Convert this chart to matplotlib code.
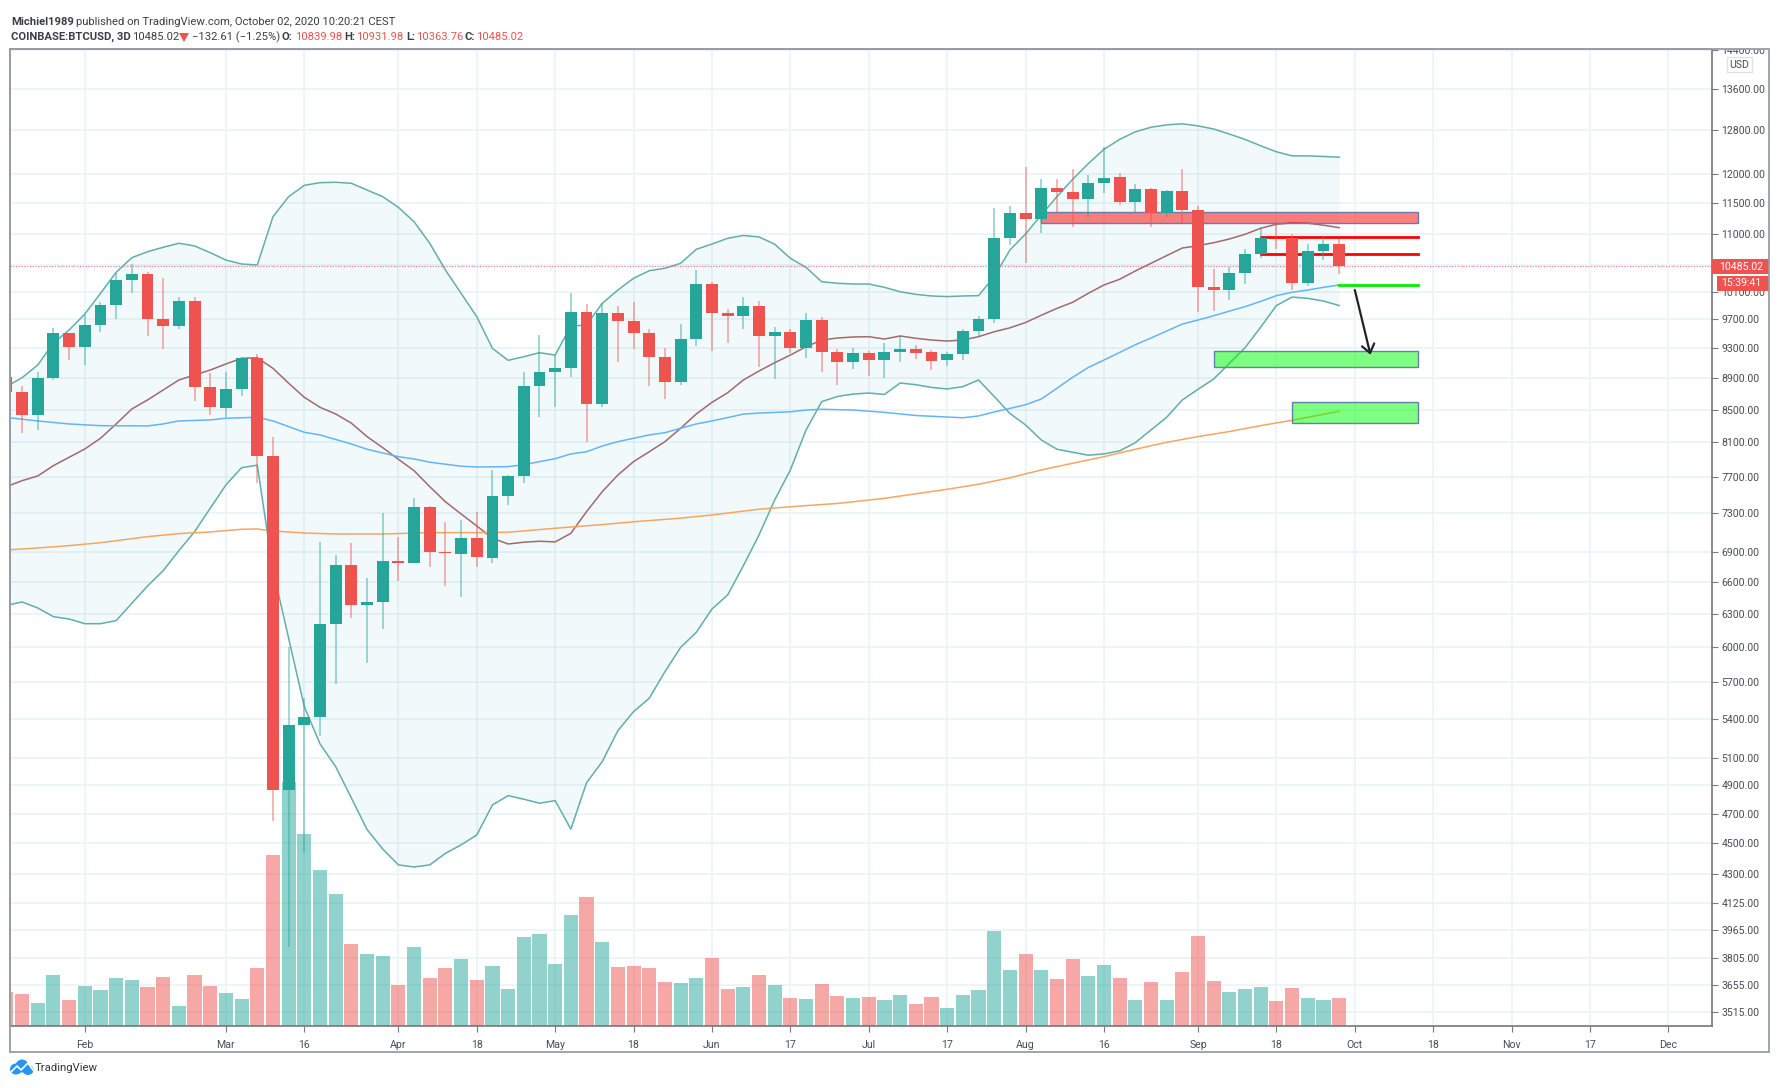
import matplotlib
matplotlib.use("Agg")
import matplotlib.pyplot as plt
from matplotlib.patches import Rectangle, Ellipse, Polygon
from matplotlib.ticker import FixedLocator, FixedFormatter, NullLocator

W, H = 1782, 1088
plt.rcParams["font.family"] = ["Roboto", "DejaVu Sans"]

# candles, 3D bars, one value per bar
opens = [8915, 8722, 8432, 8898, 9504, 9320, 9618, 9903, 10273, 10369,
         9702, 9607, 9966, 8781, 8523, 8760, 9163, 7940, 4866, 5352,
         5418, 6206, 6770, 6379, 6410, 6810, 6784, 7371, 6895, 6881,
         7038, 6840, 7491, 7711, 8798, 8985, 9030, 9810, 8573, 9796,
         9678, 9513, 9181, 8846, 9426, 10211, 9788, 9750, 9897, 9471,
         9527, 9297, 9692, 9248, 9117, 9239, 9140, 9252, 9293, 9244,
         9136, 9217, 9533, 9713, 10926, 11344, 11234, 11768, 11688, 11569,
         11855, 11948, 11528, 11745, 11334, 11716, 11389, 10168, 10128, 10389,
         10682, 10936, 10926, 10238, 10724, 10840]
highs = [8960, 8798, 8985, 9578, 9513, 9769, 9952, 10379, 10522, 10395,
         10313, 10031, 10031, 8972, 8977, 9176, 9221, 8161, 6004, 5566,
         6997, 6867, 6987, 6636, 7300, 7054, 7466, 7382, 7208, 7229,
         7311, 7779, 7722, 8985, 9481, 9207, 10079, 9922, 9932, 9897,
         9957, 9561, 9307, 9632, 10430, 10243, 9850, 10020, 9971, 9589,
         9561, 9788, 9730, 9293, 9307, 9265, 9375, 9468, 9347, 9275,
         9244, 9561, 9750, 11417, 11457, 12125, 11913, 11918, 12090, 11988,
         12485, 12018, 11827, 11757, 11728, 12090, 11461, 10441, 10481, 10756,
         11104, 11195, 10996, 10830, 10952, 10932]
lows = [8640, 8213, 8249, 8876, 9140, 9077, 9523, 9706, 10079, 9468,
        9285, 9561, 8604, 8432, 8404, 8671, 7629, 4651, 3867, 4438,
        5267, 5684, 6264, 5859, 6164, 6610, 6784, 6750, 6562, 6460,
        6750, 6784, 7393, 7636, 8411, 8535, 8919, 8109, 8535, 9117,
        9293, 8802, 8632, 8807, 9330, 9265, 9366, 9561, 9050, 8893,
        9239, 9163, 8976, 8811, 9016, 8932, 8906, 9117, 9158, 9007,
        9060, 9136, 9453, 9654, 10814, 10542, 11006, 11361, 11113, 11277,
        11681, 11473, 11361, 11103, 11277, 11157, 9810, 9816, 9981, 10214,
        10610, 10756, 10132, 10193, 10584, 10364]
closes = [8722, 8432, 8898, 9504, 9320, 9618, 9903, 10273, 10369, 9702,
          9607, 9966, 8781, 8532, 8760, 9163, 7940, 4866, 5352, 5418,
          6206, 6770, 6379, 6410, 6810, 6784, 7371, 6895, 6885, 7038,
          6847, 7491, 7711, 8798, 8985, 9030, 9810, 8573, 9796, 9678,
          9509, 9181, 8846, 9426, 10211, 9788, 9750, 9897, 9471, 9527,
          9297, 9692, 9244, 9117, 9239, 9140, 9252, 9293, 9239, 9127,
          9217, 9533, 9713, 10936, 11344, 11234, 11768, 11688, 11569, 11855,
          11941, 11528, 11745, 11334, 11716, 11389, 10168, 10132, 10389, 10682,
          10936, 10926, 10229, 10724, 10840, 10485]
volumes = [34.3, 32, 23.3, 51.3, 26, 40.3, 35.7, 47.7, 46.3, 38.7,
           48.7, 19.7, 51, 40.3, 32.7, 27.3, 58.3, 171.3, 244, 191.7,
           155.7, 131.7, 82.3, 72, 70.3, 41.3, 79, 48.3, 57.7, 67.3,
           46.3, 60, 37, 89.3, 91.7, 62.3, 110.7, 129, 83.7, 59.3,
           59.7, 58.3, 44.3, 43, 48.3, 68.3, 37, 38.7, 51, 40.7,
           28.3, 27, 42, 30.3, 28.3, 29, 25.7, 30.7, 21.7, 28.7,
           17.7, 31, 36, 94.7, 56.3, 72, 56.3, 46.7, 66.7, 50,
           61.3, 48.3, 25.7, 44.3, 26, 54, 90.3, 44.7, 33.7, 37,
           39, 25, 38, 28.3, 25.7, 28.3]

# bollinger bands
bb_upper = [8790, 8906, 9073, 9372, 9551, 9778, 10079, 10395, 10620, 10713,
            10783, 10847, 10804, 10699, 10584, 10522, 10507, 11277, 11614, 11809,
            11855, 11862, 11844, 11728, 11614, 11434, 11195, 10847, 10430, 10079,
            9739, 9297, 9136, 9185, 9239, 9207, 9607, 9622, 9932, 10128,
            10304, 10419, 10456, 10533, 10751, 10835, 10926, 10972, 10948, 10832,
            10610, 10470, 10252, 10229, 10218, 10218, 10168, 10103, 10064, 10040,
            10031, 10040, 10045, 10327, 10740, 10996, 11306, 11614, 11913, 12190,
            12449, 12631, 12773, 12859, 12904, 12924, 12884, 12825, 12731, 12631,
            12513, 12404, 12330, 12330, 12319, 12306]
bb_lower = [6378, 6410, 6354, 6273, 6252, 6209, 6209, 6237, 6398, 6562,
            6711, 6911, 7106, 7354, 7610, 7805, 7834, 6718, 6078, 5498,
            5206, 5035, 4809, 4591, 4462, 4359, 4346, 4359, 4434, 4489,
            4555, 4760, 4825, 4800, 4772, 4790, 4594, 4917, 5072, 5308,
            5458, 5566, 5787, 5997, 6131, 6344, 6476, 6760, 7072, 7444,
            7779, 8249, 8599, 8664, 8695, 8708, 8690, 8837, 8815, 8780,
            8760, 8790, 8876, 8664, 8451, 8310, 8129, 8019, 7984, 7949,
            7964, 8000, 8097, 8249, 8404, 8620, 8756, 8889, 9096, 9307,
            9593, 9900, 10024, 10005, 9966, 9900]
bb_mid = [7591, 7658, 7711, 7829, 7925, 8022, 8149, 8322, 8507, 8620,
          8747, 8876, 8941, 9007, 9087, 9163, 9170, 9030, 8834, 8654,
          8528, 8445, 8332, 8169, 8038, 7902, 7771, 7591, 7425, 7293,
          7166, 7038, 6979, 6997, 7007, 7000, 7089, 7318, 7535, 7722,
          7875, 7990, 8109, 8269, 8445, 8590, 8712, 8876, 8994, 9104,
          9207, 9320, 9412, 9440, 9454, 9458, 9426, 9468, 9436, 9412,
          9398, 9412, 9458, 9527, 9582, 9657, 9760, 9859, 9947, 10079,
          10203, 10289, 10415, 10533, 10652, 10772, 10808, 10856, 10915, 10991,
          11088, 11154, 11176, 11171, 11138, 11098]

# moving averages, read only at the bars where the line bends
ma50_bars = [0, 2, 4, 6, 9, 10, 11, 13, 14, 16, 17, 19, 20, 22, 23, 25, 26, 27, 28, 29,
             30, 32, 33, 35, 36, 37, 38, 39, 40, 41, 42, 43, 44, 45, 46, 47, 48, 50, 51, 52,
             54, 56, 58, 60, 61, 62, 63, 64, 65, 66, 67, 68, 69, 70, 71, 72, 73, 74, 75, 76,
             77, 78, 79, 80, 81, 82, 83, 84, 85]
ma50 = [8402, 8359, 8322, 8301, 8298, 8322, 8359, 8371, 8392, 8404, 8359, 8221, 8189, 8081, 8019, 7932, 7906, 7868, 7845, 7822,
        7813, 7817, 7840, 7909, 7964, 7990, 8057, 8109, 8149, 8189, 8216, 8270, 8322, 8359, 8400, 8443, 8456, 8472, 8494, 8503,
        8494, 8465, 8426, 8407, 8398, 8420, 8470, 8514, 8560, 8632, 8769, 8911, 9040, 9140, 9242, 9347, 9440, 9537, 9635, 9692,
        9753, 9820, 9884, 9961, 10045, 10095, 10128, 10168, 10203]
ma200_bars = [0, 2, 4, 6, 9, 11, 13, 15, 16, 17, 19, 21, 24, 27, 30, 32, 35, 38, 40, 43, 45,
              48, 51, 53, 56, 60, 62, 64, 66, 68, 70, 72, 74, 76, 78, 80, 82, 85]
ma200 = [6918, 6938, 6962, 6992, 7054, 7086, 7103, 7131, 7134, 7113, 7092, 7082, 7082, 7096, 7096, 7100, 7142, 7180, 7210, 7248, 7282,
         7344, 7383, 7406, 7462, 7562, 7618, 7690, 7779, 7856, 7932, 8019, 8101, 8169, 8230, 8302, 8367, 8478]

# axis labels
price_ticks = [14400, 13600, 12800, 12000, 11500, 11000, 10500, 10100, 9700, 9300, 8900, 8500, 8100,
               7700, 7300, 6900, 6600, 6300, 6000, 5700, 5400, 5100, 4900, 4700, 4500, 4300,
               4125, 3965, 3805, 3655, 3515]
date_bars = [5, 14, 19, 25, 30, 35, 40, 45, 50, 55, 60, 65, 70, 76, 81, 86, 91, 96, 101, 106]
date_labels = ["Feb", "Mar", "16", "Apr", "18", "May", "18", "Jun", "17", "Jul", "17", "Aug", "16",
               "Sep", "18", "Oct", "18", "Nov", "17", "Dec"]
last_price = 10485.02

GREEN = "#26a69a"
RED = "#ef5350"
TEXT = "#4a4c57"
FRAME = "#9a9ca5"
XLIM = (0.198, 108.76)
YLIM = (3442, 14422)


def fx(x):
    return x / W


def fy(y):
    return 1 - y / H


def label(x, y, s, **kw):
    kw.setdefault("fontsize", 8.1)
    kw.setdefault("color", "#3b3d48")
    fig.text(fx(x), fy(y), s, va="center", ha=kw.pop("ha", "left"), **kw)


fig = plt.figure(figsize=(W / 100, H / 100), dpi=100, facecolor="white")
rect = [fx(9.5), fy(1026), fx(1711.7 - 9.5), (1026 - 49) / H]

# grid sits in its own axes so the volume bars cover it
ax_grid = fig.add_axes(rect, zorder=0, facecolor="white")
ax_vol = fig.add_axes(rect, zorder=1, facecolor="none")
ax = fig.add_axes(rect, zorder=2, facecolor="none")

bars = range(len(closes))
up = [c >= o for o, c in zip(opens, closes)]
colors = [GREEN if u else RED for u in up]

ax_grid.set_yscale("log")
ax_grid.set_xlim(*XLIM)
ax_grid.set_ylim(*YLIM)
ax_grid.yaxis.set_major_locator(FixedLocator(price_ticks))
ax_grid.yaxis.set_minor_locator(NullLocator())
ax_grid.xaxis.set_major_locator(FixedLocator(date_bars))
ax_grid.grid(True, color="#e9f3f5", linewidth=1.1)
ax_grid.tick_params(length=0, labelleft=False, labelbottom=False)
for s in ax_grid.spines.values():
    s.set_visible(False)

# volume
ax_vol.bar(bars, volumes, width=0.9, color=colors, alpha=0.5, linewidth=0)
ax_vol.set_xlim(*XLIM)
ax_vol.set_ylim(0, 977)
ax_vol.axis("off")

# price panel
ax.set_yscale("log")
ax.set_xlim(*XLIM)
ax.set_ylim(*YLIM)
ax.yaxis.set_major_locator(FixedLocator(price_ticks))
ax.yaxis.set_major_formatter(FixedFormatter([f"{p:.2f}" for p in price_ticks]))
ax.yaxis.set_minor_locator(NullLocator())
ax.yaxis.tick_right()
ax.xaxis.set_major_locator(FixedLocator(date_bars))
ax.xaxis.set_major_formatter(FixedFormatter(date_labels))
ax.tick_params(axis="y", length=4, width=0.8, color="#777a85", labelsize=7.6, labelcolor=TEXT, pad=3)
ax.tick_params(axis="x", length=4, width=0.8, color="#777a85", labelsize=7.6, labelcolor=TEXT, pad=6)
for side in ["top", "left"]:
    ax.spines[side].set_color(FRAME)
    ax.spines[side].set_linewidth(1.3)
ax.spines["bottom"].set_color("#74767f")
ax.spines["right"].set_color("#74767f")
ax.spines["bottom"].set_linewidth(1.2)
ax.spines["right"].set_linewidth(1.2)

# bands and averages
ax.fill_between(bars, bb_lower, bb_upper, color="#2196a8", alpha=0.055, linewidth=0, zorder=1)
ax.plot(bars, bb_upper, color="#62aeab", linewidth=1.1, zorder=2)
ax.plot(bars, bb_lower, color="#62aeab", linewidth=1.1, zorder=2)
ax.plot(bars, bb_mid, color="#a26a6c", linewidth=1.1, zorder=2)
ax.plot(ma50_bars, ma50, color="#64b5f6", linewidth=1.1, zorder=2)
ax.plot(ma200_bars, ma200, color="#f7a661", linewidth=1.1, zorder=2)

# drawn levels
ax.add_patch(Rectangle((66, 11177), 24, 11361 - 11177, facecolor="#ff0000", alpha=0.5, linewidth=0, zorder=3))
ax.add_patch(Rectangle((66, 11177), 24, 11361 - 11177, fill=False, edgecolor="#6a7bb0", linewidth=1.0, zorder=3))
ax.add_patch(Rectangle((77, 9043), 13, 9257 - 9043, facecolor="#00ff00", alpha=0.5, linewidth=0, zorder=3))
ax.add_patch(Rectangle((77, 9043), 13, 9257 - 9043, fill=False, edgecolor="#6a7bb0", linewidth=1.0, zorder=3))
ax.add_patch(Rectangle((82, 8332), 8, 8599 - 8332, facecolor="#00ff00", alpha=0.5, linewidth=0, zorder=3))
ax.add_patch(Rectangle((82, 8332), 8, 8599 - 8332, fill=False, edgecolor="#6a7bb0", linewidth=1.0, zorder=3))
ax.plot([80, 90], [10948, 10948], color="#ff0000", linewidth=2.0, zorder=3)
ax.plot([80, 90], [10672, 10672], color="#ff0000", linewidth=2.0, zorder=3)
ax.plot([85, 90], [10203, 10203], color="#00ee00", linewidth=2.0, zorder=3)
ax.annotate("", xy=(87, 9210), xytext=(86, 10128),
            arrowprops=dict(arrowstyle="->,head_length=0.6,head_width=0.45", color="#20222c", linewidth=1.6,
                            shrinkA=0, shrinkB=0), zorder=6)

# candles
for b, o, h, l, c, col in zip(bars, opens, highs, lows, closes, colors):
    ax.plot([b, b], [l, h], color=col, alpha=0.55, linewidth=1.1, zorder=4, solid_capstyle="butt")
    ax.bar(b, max(abs(c - o), 1), bottom=min(o, c), width=0.76, color=col, linewidth=0, zorder=5)

ax.axhline(last_price, color=RED, linewidth=0.8, linestyle=(0, (1, 1.5)), alpha=0.8, zorder=3)

# frame around the chart and the price tags
fig.add_artist(Rectangle((fx(1712), fy(49)), fx(57), 19 / H, facecolor="white", linewidth=0, zorder=5))
fig.add_artist(Rectangle((fx(9.5), fy(1052)), fx(1769 - 9.5), (1052 - 49) / H, fill=False,
                         edgecolor=FRAME, linewidth=1.3, zorder=6))
fig.add_artist(Rectangle((fx(1712), fy(274)), fx(57), 15.3 / H, facecolor=RED, linewidth=0, zorder=5))
fig.add_artist(Rectangle((fx(1716.7), fy(290.7)), fx(52.3), 15 / H, facecolor=RED, linewidth=0, zorder=5))
label(1719, 266.6, "10485.02", color="white", fontsize=7.6, zorder=7)
label(1721, 283, "15:39:41", color="white", fontsize=7.6, zorder=7)
fig.add_artist(Rectangle((fx(1727), fy(71.7)), fx(25), 14.7 / H, facecolor="white", edgecolor="#dfe0e4",
                         linewidth=0.9, zorder=6))
label(1739.5, 64.5, "USD", color=TEXT, fontsize=7.6, ha="center", zorder=7)

# header
label(11, 22, "Michiel1989", fontweight="bold")
label(75.5, 22, "published on TradingView.com, October 02, 2020 10:20:21 CEST")
label(11, 37, "COINBASE:BTCUSD, 3D", fontweight="bold")
label(132, 37, "10485.02")
fig.add_artist(Polygon([(fx(179), fy(33)), (fx(189), fy(33)), (fx(184), fy(42))], facecolor=RED, linewidth=0))
label(192, 37, "\u2212132.61 (\u22121.25%)")
for x, s in [(282, "O:"), (344, "H:"), (406, "L:"), (465, "C:")]:
    label(x, 37, s, fontweight="bold")
for x, s in [(295, "10839.98"), (356, "10931.98"), (416, "10363.76"), (476, "10485.02")]:
    label(x, 37, s, color=RED)

# logo
for cx, cy, w, h in [(16, 1069, 12, 11), (22, 1066, 13, 13), (28, 1070, 11, 10)]:
    fig.add_artist(Ellipse((fx(cx), fy(cy)), fx(w), h / H, facecolor="#2196f3", linewidth=0))
fig.add_artist(plt.Line2D([fx(11), fx(17), fx(21), fx(28), fx(33)],
                          [fy(1072), fy(1066), fy(1070), fy(1063), fy(1070)], color="white", linewidth=1.2))
label(35, 1068, "TradingView", fontsize=8.2, color="#33353f")

fig.savefig("out.png", dpi=100)
